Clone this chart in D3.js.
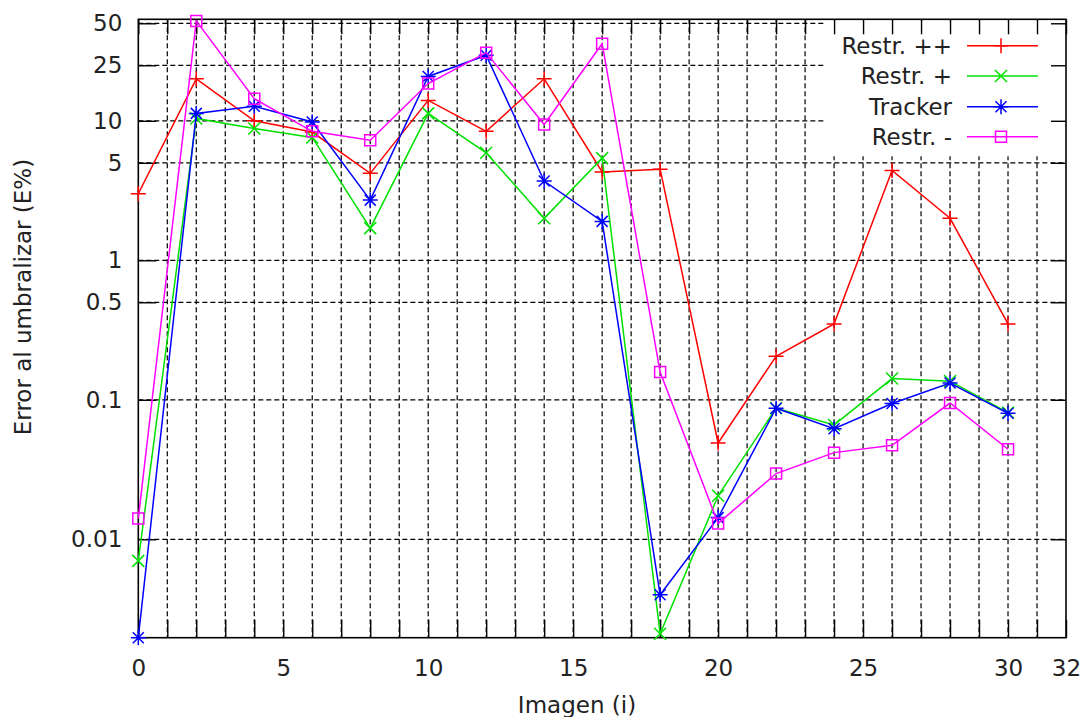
<!DOCTYPE html>
<html>
<head>
<meta charset="utf-8">
<script src="https://cdn.jsdelivr.net/npm/d3@7"></script>
<style>
  html, body { margin: 0; padding: 0; background: #fff; }
  svg { display: block; }
  text { font-family: "DejaVu Sans", sans-serif; fill: #222; }
</style>
</head>
<body>
<svg id="chart" width="1086" height="717"></svg>
<script>
// ---- data ----
const imageIdx = [0, 2, 4, 6, 8, 10, 12, 14, 16, 18, 20, 22, 24, 26, 28, 30];
const restrPlusPlus = [3.0, 20, 10, 8.3, 4.2, 14, 8.4, 20, 4.3, 4.5, 0.049, 0.205, 0.35, 4.4, 2.0, 0.35];
const restrPlus     = [0.0070, 10.4, 8.8, 7.6, 1.7, 11.3, 5.9, 2.0, 5.4, 0.0021, 0.0205, 0.087, 0.066, 0.142, 0.136, 0.081];
const tracker       = [0.00197, 11.3, 12.7, 9.8, 2.7, 20.8, 29.5, 3.7, 1.9, 0.0040, 0.0143, 0.087, 0.062, 0.094, 0.132, 0.080];
const restrMinus    = [0.0141, 52, 14.4, 8.4, 7.25, 18.5, 30.8, 9.4, 35.7, 0.158, 0.013, 0.0296, 0.0418, 0.0472, 0.0948, 0.0442];
const seriesNames   = ["Restr. ++", "Restr. +", "Tracker", "Restr. -"];
const xTickLabels   = [0, 5, 10, 15, 20, 25, 30, 32];
const yTickLabels   = [0.01, 0.1, 0.5, 1, 5, 10, 25, 50];
const xLabel = "Imagen (i)";
const yLabel = "Error al umbralizar (E%)";

(function () {
// ---- layout ----
const pLeft = 138.3, pRight = 1066, pTop = 19.3, pBottom = 637.7;
const FS = "23px";
const svg = d3.select("#chart");
svg.append("rect").attr("width", 1086).attr("height", 717).attr("fill", "#fff");

const x = d3.scaleLinear().domain([0, 32]).range([pLeft, pRight]);
const y = d3.scaleLog().domain([0.00197, 53.4]).range([pBottom, pTop]);
const W = pRight - pLeft, H = pBottom - pTop;

const series = [
  { name: seriesNames[0], values: restrPlusPlus, color: "#ff0000", marker: "plus" },
  { name: seriesNames[1], values: restrPlus,     color: "#00e000", marker: "cross" },
  { name: seriesNames[2], values: tracker,       color: "#0000ff", marker: "star" },
  { name: seriesNames[3], values: restrMinus,    color: "#ff00ff", marker: "square" }
];

const minorX = d3.range(0, 33, 1);

// ---- grid ----
const grid = svg.append("g");
grid.selectAll("line.vg").data(minorX.filter(d => d > 0 && d < 32)).join("line")
  .attr("x1", d => x(d)).attr("x2", d => x(d)).attr("y1", pTop).attr("y2", pBottom)
  .attr("stroke", "#000").attr("stroke-width", 1.2).attr("stroke-dasharray", "5,3");
grid.selectAll("line.hg").data(yTickLabels).join("line")
  .attr("x1", pLeft).attr("x2", pRight).attr("y1", d => y(d)).attr("y2", d => y(d))
  .attr("stroke", "#000").attr("stroke-width", 1.2).attr("stroke-dasharray", "5,3");

// ---- legend background (opaque) ----
svg.append("rect").attr("x", 826).attr("y", pTop + 1).attr("width", pRight - 826).attr("height", 136)
  .attr("fill", "#fff");

// ---- axes / ticks (inward) ----
function styleAxis(g) {
  g.select(".domain").remove();
  g.selectAll(".tick line").attr("stroke", "#000").attr("stroke-width", 1.4);
  g.selectAll(".tick text").style("font-family", "DejaVu Sans, sans-serif")
    .style("font-size", FS).attr("fill", "#222");
}
const xAxis = d3.axisBottom(x).tickValues(minorX).tickSize(-18).tickPadding(22)
  .tickFormat(d => xTickLabels.includes(d) ? String(d) : "");
svg.append("g").attr("transform", `translate(0,${pBottom})`).call(xAxis).call(styleAxis);

const xAxisTop = d3.axisTop(x).tickValues(minorX).tickSize(-15).tickFormat("");
svg.append("g").attr("transform", `translate(0,${pTop})`).call(xAxisTop).call(styleAxis);

const yAxis = d3.axisLeft(y).tickValues(yTickLabels).tickSize(-18).tickPadding(16)
  .tickFormat(d => String(d));
svg.append("g").attr("transform", `translate(${pLeft},0)`).call(yAxis).call(styleAxis);

const yAxisRight = d3.axisRight(y).tickValues(yTickLabels).tickSize(-15).tickFormat("");
svg.append("g").attr("transform", `translate(${pRight},0)`).call(yAxisRight).call(styleAxis);

// ---- border ----
svg.append("rect").attr("x", pLeft).attr("y", pTop).attr("width", W).attr("height", H)
  .attr("fill", "none").attr("stroke", "#000").attr("stroke-width", 1.6);

// ---- markers ----
function markerPath(type) {
  switch (type) {
    case "plus": return "M-7.5,0H7.5M0,-7.5V7.5";
    case "cross": return "M-6,-6L6,6M-6,6L6,-6";
    case "star": return "M-7.5,0H7.5M0,-7.5V7.5M-5.5,-5.5L5.5,5.5M-5.5,5.5L5.5,-5.5";
    case "square": return "M-5.5,-5.5H5.5V5.5H-5.5Z";
  }
}

// ---- data lines ----
const line = d3.line().x(d => x(d[0])).y(d => y(d[1]));
const plotG = svg.append("g");
series.forEach(s => {
  const pts = imageIdx.map((xi, i) => [xi, s.values[i]]);
  plotG.append("path").datum(pts).attr("d", line)
    .attr("fill", "none").attr("stroke", s.color).attr("stroke-width", 1.5);
  plotG.selectAll(null).data(pts).join("path")
    .attr("transform", d => `translate(${x(d[0])},${y(d[1])})`)
    .attr("d", markerPath(s.marker))
    .attr("fill", "none").attr("stroke", s.color).attr("stroke-width", 1.5);
});

// ---- legend ----
const legendYs = [45.7, 76, 106.7, 136.7];
const lg = svg.append("g");
series.forEach((s, i) => {
  const ly = legendYs[i];
  lg.append("text").attr("x", 952).attr("y", ly).attr("dy", "0.36em")
    .attr("text-anchor", "end").style("font-size", FS).text(s.name);
  lg.append("line").attr("x1", 967).attr("x2", 1038).attr("y1", ly).attr("y2", ly)
    .attr("stroke", s.color).attr("stroke-width", 1.5);
  lg.append("path").attr("transform", `translate(1001,${ly})`).attr("d", markerPath(s.marker))
    .attr("fill", "none").attr("stroke", s.color).attr("stroke-width", 1.5);
});

// ---- axis labels ----
svg.append("text").attr("x", 577).attr("y", 713).attr("text-anchor", "middle")
  .style("font-size", FS).text(xLabel);
svg.append("text").attr("transform", "translate(31,297) rotate(-90)")
  .attr("text-anchor", "middle").style("font-size", FS).text(yLabel);
})();
</script>
</body>
</html>
